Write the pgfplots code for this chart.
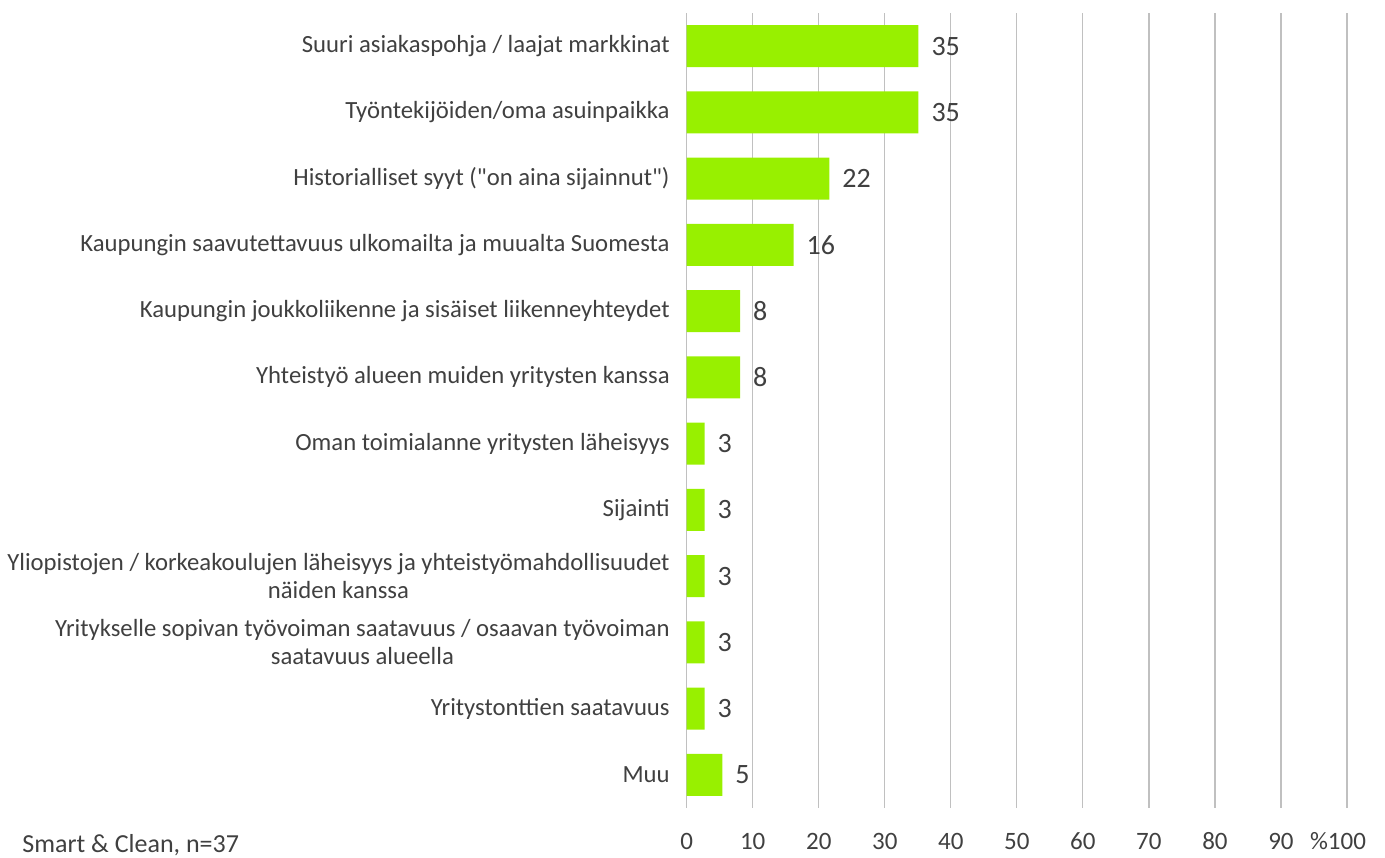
\documentclass[border=0pt]{standalone}
\usepackage{pgfplots}
\pgfplotsset{compat=1.18}
\usepackage{pgfplotstable}
\usepackage{fontspec}
\setmainfont{Carlito}[Ligatures=TeXOff]
\definecolor{barg}{HTML}{98F000}
\definecolor{txt}{HTML}{404040}
\definecolor{gridc}{HTML}{C0C0C0}
\pgfplotstableread[col sep=comma]{
y,x,lab
0,35.1,35
1,35.1,35
2,21.6,22
3,16.2,16
4,8.1,8
5,8.1,8
6,2.7,3
7,2.7,3
8,2.7,3
9,2.7,3
10,2.7,3
11,5.4,5
}\datatable
\begin{document}
\begin{tikzpicture}
\useasboundingbox (-343.35pt,-24.5pt) rectangle (349.15pt,404pt);
\begin{axis}[
  at={(0,0)}, anchor=south west,
  scale only axis, width=330.15pt, height=397.5pt,
  xmin=0, xmax=100, ymin=-0.5, ymax=11.5,
  y dir=reverse,
  xbar, bar width=21pt,
  axis line style={draw=none},
  major tick length=0pt,
  xmajorgrids, grid style={gridc, line width=0.6pt},
  xtick={0,10,...,100},
  xticklabels={0,10,20,30,40,50,60,70,80,90,\hspace*{-9pt}\%100},
  xticklabel style={font=\fontsize{12.5}{14}\selectfont, text=txt, anchor=base, yshift=-20.8pt},
  ytick={0,...,11},
  yticklabels={
    Suuri asiakaspohja / laajat markkinat,
    Työntekijöiden/oma asuinpaikka,
    {Historialliset syyt ("on aina sijainnut")},
    Kaupungin saavutettavuus ulkomailta ja muualta Suomesta,
    Kaupungin joukkoliikenne ja sisäiset liikenneyhteydet,
    Yhteistyö alueen muiden yritysten kanssa,
    Oman toimialanne yritysten läheisyys,
    Sijainti,
    {Yliopistojen / korkeakoulujen läheisyys ja yhteistyömahdollisuudet\\näiden kanssa},
    {Yritykselle sopivan työvoiman saatavuus / osaavan työvoiman\\saatavuus alueella},
    Yritystonttien saatavuus,
    Muu},
  yticklabel style={font=\fontsize{12.35}{14}\selectfont, text=txt, align=center, anchor=east, xshift=-5pt},
  nodes near coords,
  point meta=explicit symbolic,
  every node near coord/.append style={font=\fontsize{14}{16}\selectfont, text=txt, anchor=west, xshift=3pt, yshift=0pt},
]
\addplot[fill=barg, draw=none] table[x=x, y=y, meta=lab] {\datatable};
\end{axis}
\node[anchor=base west, inner sep=0pt, text=txt, font=\fontsize{13}{15}\selectfont] at (-332.35pt,-22.3pt) {Smart \& Clean, n=37};
\end{tikzpicture}
\end{document}
